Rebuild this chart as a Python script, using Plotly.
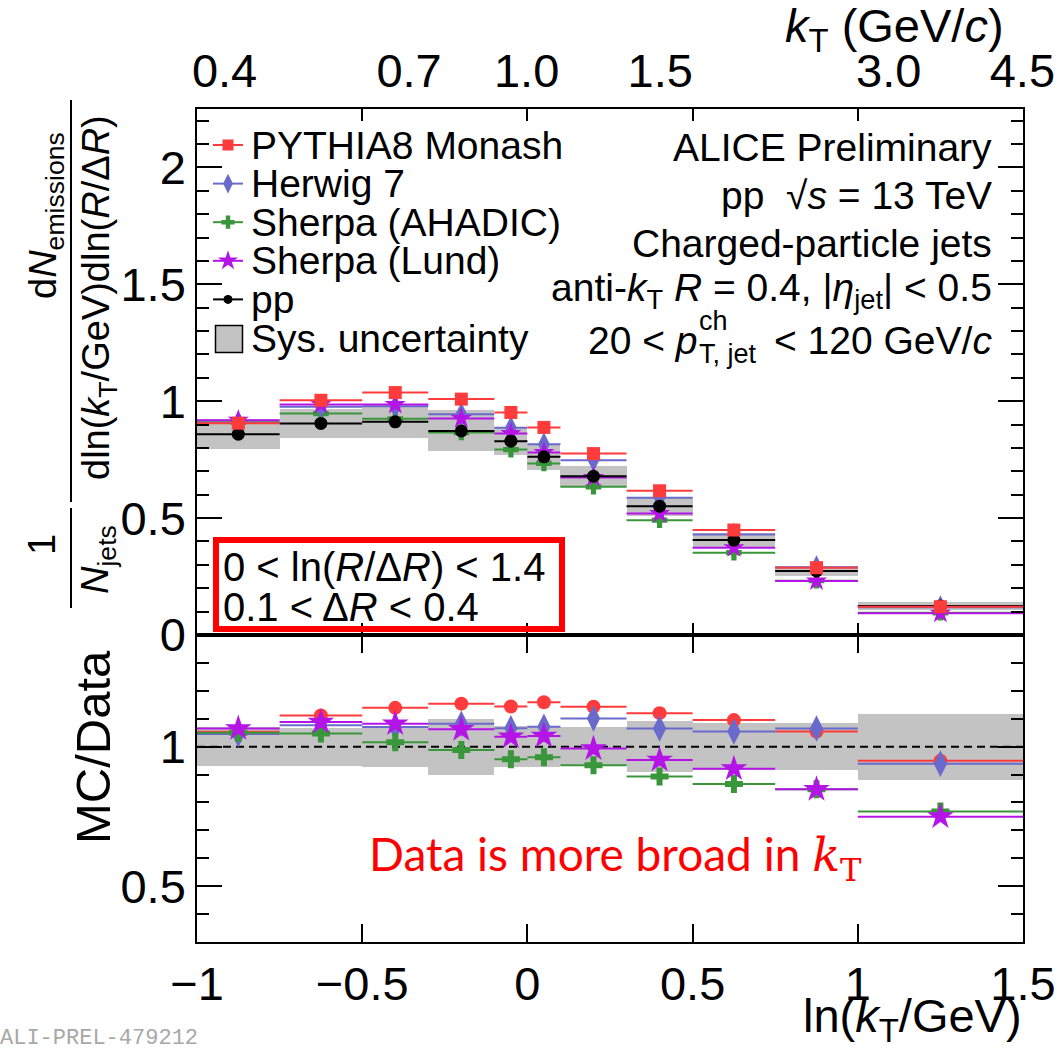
import numpy as np
import plotly.graph_objects as go

# ---------------- data ----------------
edges = [-1.0, -0.75, -0.5, -0.3, -0.1, 0.0, 0.1, 0.3, 0.5, 0.75, 1.0, 1.5]

pp = [0.859, 0.905, 0.912, 0.873, 0.829, 0.762, 0.679, 0.551, 0.406, 0.274, 0.124]
pp_sys = [0.064, 0.063, 0.069, 0.088, 0.060, 0.057, 0.046, 0.040, 0.032, 0.021, 0.018]
pythia = [0.906, 1.004, 1.037, 1.009, 0.952, 0.888, 0.776, 0.617, 0.449, 0.288, 0.121]
herwig = [0.907, 0.976, 0.979, 0.944, 0.886, 0.816, 0.748, 0.587, 0.430, 0.290, 0.119]
sherpa_ahadic = [0.910, 0.947, 0.925, 0.866, 0.793, 0.734, 0.634, 0.491, 0.352, 0.232, 0.095]
sherpa_lund = [0.919, 0.986, 0.986, 0.926, 0.862, 0.781, 0.674, 0.520, 0.373, 0.231, 0.093]

r_pythia = [1.053, 1.112, 1.139, 1.154, 1.144, 1.159, 1.143, 1.120, 1.095, 1.054, 0.949]
r_herwig = [1.045, 1.077, 1.070, 1.082, 1.066, 1.071, 1.101, 1.065, 1.054, 1.065, 0.939]
r_ahadic = [1.050, 1.047, 1.016, 0.988, 0.955, 0.962, 0.933, 0.893, 0.866, 0.847, 0.768]
r_lund = [1.065, 1.088, 1.082, 1.062, 1.035, 1.038, 0.993, 0.952, 0.921, 0.847, 0.749]
r_sys = [0.070, 0.068, 0.073, 0.100, 0.074, 0.074, 0.070, 0.091, 0.083, 0.083, 0.118]

kt_ticks = [0.4, 0.7, 1.0, 1.5, 3.0, 4.5]
kt_labels = ["0.4", "0.7", "1.0", "1.5", "3.0", "4.5"]

legend_names = ["PYTHIA8 Monash", "Herwig 7", "Sherpa (AHADIC)", "Sherpa (Lund)", "pp", "Sys. uncertainty"]

# ---------------- styling ----------------
FONT = "Liberation Sans, Arial, sans-serif"
RED, BLUE, GREEN, PURPLE = "#ff3b3b", "#6a6acc", "#3a963a", "#b414e6"
GREY = "#c3c3c3"
CLEAR = "rgba(0,0,0,0)"

W, H = 1064, 1050
L, R, T, B = 197, 1023, 109, 942
SPLIT = 635  # pixel boundary between panels
split_frac = (B - SPLIT) / (B - T)


def px(x):
    return (x - L) / (R - L)


def py(y):
    return (B - y) / (B - T)


e = np.array(edges)
centers = (e[:-1] + e[1:]) / 2
half = (e[1:] - e[:-1]) / 2
widths = e[1:] - e[:-1]

fig = go.Figure()

# systematic boxes
fig.add_trace(go.Bar(x=centers, y=2 * np.array(pp_sys), base=np.array(pp) - np.array(pp_sys),
                     width=widths, marker=dict(color=GREY, line=dict(width=0)),
                     xaxis="x", yaxis="y", showlegend=False, hoverinfo="skip"))
fig.add_trace(go.Bar(x=centers, y=2 * np.array(r_sys), base=1 - np.array(r_sys),
                     width=widths, marker=dict(color=GREY, line=dict(width=0)),
                     xaxis="x2", yaxis="y2", showlegend=False, hoverinfo="skip"))


def pts(y, color, symbol, size, xa, ya, lw=2):
    return go.Scatter(x=centers, y=y, mode="markers", xaxis=xa, yaxis=ya,
                      marker=dict(color=color, symbol=symbol, size=size, line=dict(width=0)),
                      error_x=dict(type="data", array=half, color=color, thickness=lw, width=0),
                      showlegend=False, hoverinfo="skip")


# top panel
fig.add_trace(pts(sherpa_ahadic, GREEN, "cross", 13, "x", "y"))
fig.add_trace(pts(herwig, BLUE, "diamond-tall", 17, "x", "y"))
fig.add_trace(pts(sherpa_lund, PURPLE, "star", 16, "x", "y"))
fig.add_trace(pts(pp, "black", "circle", 13, "x", "y"))
fig.add_trace(pts(pythia, RED, "square", 13, "x", "y"))

# ratio panel
fig.add_trace(go.Scatter(x=[edges[0], edges[-1]], y=[1, 1], mode="lines", xaxis="x2", yaxis="y2",
                         line=dict(color="black", width=2, dash="8px,5px"), showlegend=False,
                         hoverinfo="skip"))
fig.add_trace(pts(r_pythia, RED, "circle", 14, "x2", "y2"))
fig.add_trace(pts(r_herwig, BLUE, "diamond-tall", 19, "x2", "y2"))
fig.add_trace(pts(r_ahadic, GREEN, "cross", 15, "x2", "y2"))
fig.add_trace(pts(r_lund, PURPLE, "star", 20, "x2", "y2"))

# dummy for top kT axis
fig.add_trace(go.Scatter(x=np.log(kt_ticks), y=[None] * len(kt_ticks), xaxis="x3", yaxis="y",
                         mode="markers", showlegend=False, hoverinfo="skip"))

# ---------------- manual legend (pixel frame overlay) ----------------
LEG_TOP, LEG_STEP = 145, 38.6
LEG_X = 228
leg_styles = [(RED, "square", 11), (BLUE, "diamond-tall", 14), (GREEN, "cross", 11),
              (PURPLE, "star", 15), ("black", "circle", 9)]
for i, (c, s, sz) in enumerate(leg_styles):
    yy = LEG_TOP + i * LEG_STEP
    fig.add_trace(go.Scatter(x=[LEG_X], y=[yy], mode="markers", xaxis="x4", yaxis="y4",
                             marker=dict(color=c, symbol=s, size=sz, line=dict(width=0)),
                             error_x=dict(type="constant", value=15, color=c, thickness=2, width=0),
                             showlegend=False, hoverinfo="skip"))
yy = LEG_TOP + 5 * LEG_STEP + 1
fig.add_trace(go.Scatter(x=[LEG_X + 1], y=[yy], mode="markers", xaxis="x4", yaxis="y4",
                         marker=dict(color=GREY, symbol="square", size=27,
                                     line=dict(width=1.5, color="black")),
                         showlegend=False, hoverinfo="skip"))

TXT = 39
annotations = []


def ann(x, y, text, size, xanchor="center", color="black", family=FONT, angle=0):
    annotations.append(dict(x=px(x), y=py(y), xref="paper", yref="paper", text=text,
                            showarrow=False, xanchor=xanchor, yanchor="middle", textangle=angle,
                            font=dict(size=size, family=family, color=color)))


for i, name in enumerate(legend_names):
    ann(249, LEG_TOP + i * LEG_STEP, name, TXT, "left")

# right-hand text block
right_lines = [
    ("ALICE Preliminary", 148),
    ("pp  √<i>s</i> = 13 TeV", 196),
    ("Charged-particle jets", 243),
    ("anti-<i>k</i><sub>T</sub> <i>R</i> = 0.4, |<i>η</i><sub>jet</sub>| &lt; 0.5", 290),
]
for txt, yy in right_lines:
    ann(994, yy, txt, TXT, "right")

# pT line with stacked super/subscript
ann(586, 340, "20 &lt; <i>p</i>", TXT, "left")
ann(697, 321, "ch", 27, "left")
ann(697, 354, "T, jet", 27, "left")
ann(994, 340, "&lt; 120 GeV/<i>c</i>", TXT, "right")

# red box text
ann(221, 567, "0 &lt; ln(<i>R</i>/Δ<i>R</i>) &lt; 1.4", 40, "left")
ann(221, 607, "0.1 &lt; Δ<i>R</i> &lt; 0.4", 40, "left")

# red comment
ann(615, 857, 'Data is more broad in <span style="font-family:DejaVu Serif"><i>k</i><sub>T</sub></span>',
    46, "center", color="#ff0000", family="Lato, Open Sans, sans-serif")

# axis titles
ann(1024, 1019, "ln(<i>k</i><sub>T</sub>/GeV)", 47, "right")
ann(1006, 29, "<i>k</i><sub>T</sub> (GeV/<i>c</i>)", 47, "right")
ann(93, 747, "MC/Data", 49, angle=-90)
ann(46, 216, "d<i>N</i><sub>emissions</sub>", 38, angle=-90)
ann(99, 298, "dln(<i>k</i><sub>T</sub>/GeV)dln(<i>R</i>/Δ<i>R</i>)", 38, angle=-90)
ann(42, 545, "1", 38, angle=-90)
ann(98, 560, "<i>N</i><sub>jets</sub>", 38, angle=-90)
# watermark
ann(-2, 1038, "ALI-PREL-479212", 22, "left", color="#a8a8a8",
    family="Liberation Mono, DejaVu Sans Mono, monospace")

shapes = [
    dict(type="line", xref="paper", yref="paper", x0=px(71), x1=px(71), y0=py(100), y1=py(502),
         line=dict(color="black", width=2)),
    dict(type="line", xref="paper", yref="paper", x0=px(71), x1=px(71), y0=py(508), y1=py(608),
         line=dict(color="black", width=2)),
    dict(type="rect", xref="paper", yref="paper", x0=px(216), x1=px(562), y0=py(540), y1=py(629),
         line=dict(color="#ff0000", width=6), fillcolor=CLEAR),
]

axis_common = dict(showline=True, linecolor="black", linewidth=1.6, mirror="ticks", ticks="inside",
                   tickcolor="black", tickwidth=2, showgrid=False, zeroline=False, automargin=False)

fig.update_layout(
    width=W, height=H,
    margin=dict(l=L, r=W - R, t=T, b=H - B, pad=0),
    paper_bgcolor="white", plot_bgcolor=CLEAR,
    barmode="overlay", bargap=0,
    showlegend=False,
    font=dict(family=FONT, size=30, color="black"),
    xaxis=dict(domain=[0, 1], anchor="y", range=[-1, 1.5], dtick=0.5, tick0=-1, ticklen=12,
               showticklabels=False, **axis_common),
    yaxis=dict(domain=[split_frac, 1], anchor="x", range=[0, 2.25], dtick=0.5, tick0=0, ticklen=25,
               minor=dict(dtick=0.1, ticklen=12, ticks="inside", tickcolor="black", tickwidth=2),
               tickfont=dict(size=47), **axis_common),
    xaxis2=dict(domain=[0, 1], anchor="y2", range=[-1, 1.5], dtick=0.5, tick0=-1, ticklen=18,
                tickfont=dict(size=47), **axis_common),
    yaxis2=dict(domain=[0, split_frac], anchor="x2", range=[0.3, 1.4], dtick=0.5, tick0=0, ticklen=25,
                minor=dict(dtick=0.1, ticklen=12, ticks="inside", tickcolor="black", tickwidth=2),
                tickfont=dict(size=47), **axis_common),
    xaxis3=dict(overlaying="x", anchor="y", side="top", range=[-1, 1.506], tickmode="array",
                tickvals=list(np.log(kt_ticks)), ticktext=kt_labels, ticks="", showline=False,
                showgrid=False, zeroline=False, tickfont=dict(size=47), automargin=False,
                ticklabelstandoff=12),
    xaxis4=dict(overlaying="x", anchor="y4", range=[L, R], visible=False),
    yaxis4=dict(overlaying="y", anchor="x4", range=[SPLIT, T], visible=False),
    annotations=annotations,
    shapes=shapes,
)

fig.write_html("out.html")
